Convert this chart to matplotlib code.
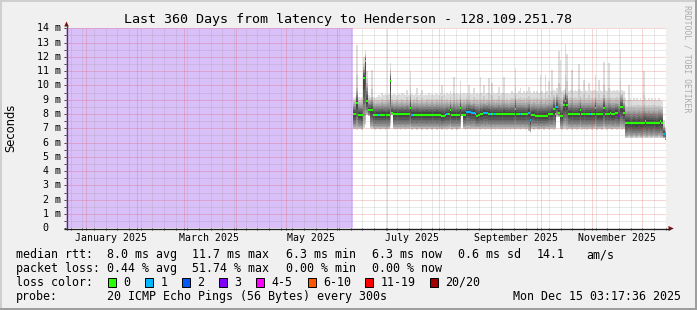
import matplotlib
matplotlib.use("Agg")
import matplotlib.pyplot as plt
import matplotlib.dates as mdates
import matplotlib.transforms as mtransforms
from matplotlib.ticker import MultipleLocator
from matplotlib.patches import Rectangle, Polygon
import numpy as np
from datetime import datetime, timedelta

# ---------------- data (one sample per day, milliseconds) ----------------
graph_start = datetime(2024, 12, 20, 3, 17, 36)
graph_end = datetime(2025, 12, 15, 3, 17, 36)
data_start = datetime(2025, 6, 10, 7, 0)

median_ms = [
    8.0, 8.0, 8.75, 7.95, 7.95, 7.9, 10.5, 11.7, 8.9, 8.3,
    8.3, 8.3, 7.95, 7.95, 7.95, 7.95, 7.95, 7.95, 7.95, 7.95,
    7.95, 7.95, 10.33, 8.05, 8.0, 8.0, 8.0, 8.0, 8.0, 8.0,
    8.0, 8.0, 8.0, 8.0, 8.44, 7.95, 7.95, 7.95, 7.95, 7.95,
    7.95, 7.95, 7.95, 7.95, 7.95, 7.95, 7.95, 7.95, 7.95, 7.95,
    7.95, 7.95, 7.95, 7.88, 7.88, 7.95, 8.0, 8.0, 8.28, 7.95,
    7.95, 7.95, 7.95, 7.95, 8.44, 7.95, 7.95, 7.95, 8.14, 8.14,
    8.14, 8.1, 8.1, 8.0, 7.88, 7.9, 8.0, 8.0, 8.1, 8.1,
    8.1, 8.0, 8.0, 8.0, 8.0, 8.0, 8.0, 8.0, 8.0, 8.0,
    8.0, 8.0, 8.0, 8.0, 8.0, 8.0, 8.0, 8.35, 8.0, 8.0,
    8.0, 8.0, 8.0, 8.0, 8.0, 8.1, 7.6, 7.95, 7.95, 7.88,
    7.88, 7.88, 7.88, 7.88, 7.88, 7.88, 7.88, 8.0, 8.0, 8.0,
    8.35, 8.0, 8.5, 8.1, 7.88, 7.88, 8.6, 8.9, 8.65, 8.03,
    8.03, 8.03, 8.0, 8.0, 8.0, 8.0, 8.28, 8.0, 8.0, 8.0,
    8.0, 8.0, 8.0, 8.0, 8.0, 8.4, 7.97, 7.97, 7.97, 7.97,
    8.44, 8.0, 8.0, 8.0, 8.1, 7.97, 7.97, 8.1, 8.1, 7.88,
    8.5, 8.5, 8.1, 7.4, 7.4, 7.4, 7.35, 7.35, 7.35, 7.35,
    7.35, 7.35, 7.35, 7.35, 7.4, 7.5, 7.4, 7.4, 7.4, 7.4,
    7.4, 7.4, 7.35, 7.35, 7.5, 7.4, 6.6, 6.3,
]

loss_count = [
    0, 0, 0, 0, 0, 0, 0, 0, 0, 0,
    0, 0, 0, 0, 0, 1, 0, 0, 0, 12,
    0, 0, 0, 0, 0, 0, 0, 0, 0, 0,
    0, 0, 0, 0, 0, 1, 0, 0, 0, 0,
    0, 0, 0, 0, 0, 0, 0, 0, 0, 0,
    0, 0, 0, 0, 0, 0, 1, 0, 0, 0,
    0, 0, 0, 0, 0, 0, 0, 0, 1, 1,
    1, 1, 1, 0, 0, 0, 0, 0, 1, 1,
    1, 0, 1, 0, 1, 1, 0, 0, 0, 0,
    0, 0, 0, 0, 0, 0, 0, 0, 0, 0,
    1, 0, 0, 0, 0, 1, 1, 0, 0, 0,
    0, 0, 0, 0, 0, 0, 0, 0, 0, 0,
    0, 0, 1, 0, 0, 0, 0, 0, 0, 0,
    0, 0, 0, 0, 0, 0, 0, 0, 0, 1,
    0, 0, 1, 0, 0, 0, 0, 0, 0, 0,
    0, 0, 0, 0, 0, 0, 0, 0, 0, 3,
    0, 0, 0, 0, 0, 0, 0, 0, 0, 0,
    0, 0, 0, 0, 0, 0, 0, 0, 0, 0,
    0, 0, 0, 0, 0, 0, 1, 0,
]

min_ping_ms = [
    6.95, 6.95, 6.9, 6.95, 6.95, 6.9, 7.0, 7.2, 7.9, 7.85,
    7.0, 6.95, 6.95, 6.9, 6.95, 6.95, 6.9, 6.95, 6.95, 6.9,
    6.95, 6.95, 7.1, 7.95, 6.95, 6.9, 6.95, 6.95, 6.9, 6.95,
    6.95, 6.9, 6.95, 6.95, 6.95, 6.9, 6.95, 6.95, 6.9, 6.95,
    6.95, 6.9, 6.95, 6.95, 6.9, 6.95, 6.95, 6.9, 6.95, 6.95,
    6.9, 6.95, 6.95, 6.9, 6.95, 6.95, 6.9, 6.95, 6.95, 6.9,
    6.95, 6.95, 6.9, 6.95, 6.95, 7.9, 6.95, 6.9, 6.95, 6.95,
    6.9, 6.95, 6.95, 6.9, 6.95, 6.95, 6.9, 6.95, 6.95, 6.9,
    6.95, 6.95, 6.9, 6.95, 6.95, 6.9, 6.95, 6.95, 6.9, 6.95,
    6.95, 6.9, 6.95, 6.95, 6.9, 6.95, 6.95, 6.9, 6.95, 6.95,
    6.9, 6.95, 6.95, 6.9, 6.95, 6.8, 6.7, 6.95, 6.9, 6.95,
    6.95, 6.9, 6.95, 6.95, 6.9, 6.95, 6.95, 6.9, 6.95, 6.95,
    6.9, 6.95, 7.8, 7.8, 6.95, 6.9, 6.95, 6.95, 6.9, 6.95,
    6.95, 6.9, 6.95, 6.95, 6.9, 6.95, 6.95, 6.9, 6.95, 6.95,
    6.9, 6.95, 6.95, 6.9, 6.95, 6.95, 6.9, 6.95, 6.95, 6.9,
    6.95, 6.95, 6.9, 6.95, 6.95, 6.9, 6.95, 6.95, 6.9, 6.95,
    6.95, 6.9, 6.95, 6.3, 6.3, 6.35, 6.3, 6.3, 6.35, 6.3,
    6.3, 6.35, 6.3, 6.3, 6.35, 6.3, 6.3, 6.35, 6.3, 6.3,
    6.35, 6.3, 6.3, 6.35, 6.3, 6.3, 6.3, 6.15,
]

upper_ping_ms = [
    8.85, 8.85, 9.8, 8.85, 8.8, 8.85, 11.3, 12.1, 10.2, 9.0,
    9.0, 9.2, 8.85, 8.8, 8.85, 8.85, 8.8, 8.9, 8.85, 8.85,
    8.85, 8.9, 11.0, 8.9, 8.85, 8.85, 8.9, 8.85, 8.85, 8.9,
    8.85, 8.85, 8.95, 8.85, 9.4, 8.85, 8.9, 8.85, 8.95, 8.85,
    8.85, 8.9, 8.85, 8.85, 8.9, 8.85, 8.85, 8.9, 8.85, 8.85,
    8.9, 8.85, 8.85, 8.95, 8.85, 8.85, 8.9, 8.85, 9.0, 8.85,
    9.0, 8.85, 8.9, 8.85, 9.2, 8.85, 8.9, 8.85, 8.95, 9.0,
    8.9, 8.85, 8.95, 8.85, 8.9, 8.85, 9.0, 8.9, 8.95, 8.85,
    8.9, 9.0, 8.85, 8.95, 8.9, 8.85, 8.9, 8.95, 8.85, 8.9,
    9.0, 8.85, 8.9, 8.85, 8.9, 8.9, 8.9, 9.3, 8.9, 8.9,
    8.95, 8.9, 8.9, 8.85, 8.9, 9.0, 8.9, 8.85, 8.9, 8.85,
    8.9, 8.85, 9.0, 8.9, 8.85, 9.0, 8.9, 8.95, 8.9, 9.0,
    9.2, 8.9, 9.3, 9.2, 9.1, 8.9, 9.3, 9.8, 9.5, 8.9,
    8.95, 9.1, 8.9, 8.95, 8.9, 9.0, 9.1, 8.9, 8.95, 8.9,
    8.9, 8.95, 8.9, 8.9, 8.9, 9.2, 8.9, 8.95, 8.9, 8.9,
    9.3, 8.9, 8.9, 9.1, 8.95, 8.9, 8.9, 8.95, 8.95, 8.9,
    9.4, 9.3, 8.95, 8.45, 8.4, 8.5, 8.4, 8.4, 8.45, 8.4,
    8.4, 8.45, 8.4, 8.4, 8.6, 8.45, 8.4, 8.45, 8.4, 8.4,
    8.45, 8.4, 8.4, 8.45, 8.4, 8.35, 7.2, 6.9,
]

max_ping_ms = [
    9.1, 9.2, 12.8, 9.2, 9.1, 9.2, 12.0, 12.5, 11.0, 9.3,
    9.2, 11.1, 9.2, 9.1, 9.2, 9.3, 9.2, 9.5, 9.3, 9.4,
    9.3, 9.4, 11.6, 9.3, 9.4, 9.3, 9.3, 9.4, 9.3, 9.5,
    9.4, 9.3, 9.7, 9.3, 11.0, 9.4, 9.3, 9.4, 9.8, 9.3,
    9.4, 9.7, 9.3, 9.4, 9.3, 9.5, 9.3, 9.4, 9.3, 9.5,
    9.4, 9.3, 9.5, 10.0, 9.4, 9.3, 9.5, 9.4, 9.6, 9.4,
    10.6, 9.4, 9.5, 9.4, 10.3, 9.4, 9.5, 9.4, 9.5, 10.0,
    9.5, 9.4, 9.8, 9.4, 9.5, 9.4, 10.6, 9.5, 10.0, 9.4,
    9.5, 10.5, 9.4, 10.2, 9.5, 9.4, 9.5, 9.9, 9.4, 9.5,
    10.6, 9.4, 9.5, 9.4, 9.5, 9.6, 9.5, 11.2, 9.5, 9.6,
    9.8, 9.5, 9.6, 9.5, 9.6, 9.9, 9.6, 9.5, 9.6, 9.5,
    9.6, 9.5, 10.7, 9.6, 9.5, 10.7, 9.6, 10.3, 9.6, 11.1,
    9.7, 9.6, 9.8, 12.4, 11.8, 9.6, 9.7, 12.9, 12.2, 9.6,
    9.7, 11.1, 9.6, 9.7, 9.6, 11.5, 9.7, 9.6, 10.4, 9.7,
    9.6, 10.2, 9.7, 9.6, 9.7, 10.7, 9.6, 10.35, 9.7, 9.6,
    11.66, 9.7, 9.6, 11.55, 9.7, 9.6, 9.7, 9.6, 9.7, 9.6,
    12.5, 9.7, 9.6, 9.1, 9.0, 10.0, 9.1, 9.0, 9.1, 9.0,
    9.1, 9.0, 9.1, 9.0, 11.0, 9.1, 9.0, 9.1, 9.0, 9.1,
    9.0, 9.1, 9.0, 9.1, 9.0, 8.9, 7.6, 7.1,
]

loss_classes = ["0", "1", "2", "3", "4-5", "6-10", "11-19", "20/20"]
loss_lo = [0, 1, 2, 3, 4, 6, 11, 20]
loss_hi = [0, 1, 2, 3, 5, 10, 19, 20]
loss_colors = ["#26ff00", "#00b8ff", "#0059ff", "#7e00ff",
               "#ff00ff", "#ff5500", "#ff0000", "#a10000"]

yticks_ms = list(range(0, 15))
month_labels = ["January 2025", "March 2025", "May 2025",
                "July 2025", "September 2025", "November 2025"]
month_label_dates = [datetime(2025, 1, 16), datetime(2025, 3, 16), datetime(2025, 5, 16),
                     datetime(2025, 7, 16), datetime(2025, 9, 16), datetime(2025, 11, 16)]

title = "Last 360 Days from latency to Henderson - 128.109.251.78"
rtt_row = [("median rtt:", 15.6), ("8.0 ms avg", 106.7), ("11.7 ms max", 192.4),
           ("6.3 ms min", 285.8), ("6.3 ms now", 372.4), ("0.6 ms sd", 457.8),
           ("14.1", 536.9), ("am/s", 586.7)]
loss_row = [("packet loss:", 15.6), ("0.44 % avg", 106.7), ("51.74 % max", 192.4),
            ("0.00 % min", 285.8), ("0.00 % now", 372.4)]
probe_text = "20 ICMP Echo Pings (56 Bytes) every 300s"
date_text = "Mon Dec 15 03:17:36 2025"

# ---------------- figure ----------------
W, H = 697, 310
MONO = "DejaVu Sans Mono"
fig = plt.figure(figsize=(W / 100, H / 100), dpi=100)
fig.patch.set_facecolor("#f0f0f0")

X0, X1, YT, YB = 66.0, 666.0, 28.3, 228.3
ax = fig.add_axes([X0 / W, 1 - YB / H, (X1 - X0) / W, (YB - YT) / H])
ax.set_facecolor("white")
for s in ax.spines.values():
    s.set_visible(False)
ax.xaxis_date()
ax.set_xlim(mdates.date2num(graph_start), mdates.date2num(graph_end))
ax.set_ylim(0, 14)

n = len(median_ms)
med = np.array(median_ms)
lo = np.array(min_ping_ms)
up = np.array(upper_ping_ms)
hi = np.array(max_ping_ms)
loss = np.array(loss_count)
edges = mdates.date2num([data_start + timedelta(days=i) for i in range(n + 1)])

# unknown (no data) period
ax.axvspan(mdates.date2num(graph_start), edges[0], color="#dac0f8", lw=0, zorder=0.5)

# sorted pings (20) built from the estimated percentile bounds
fl = np.array([0.03, 0.08, 0.15, 0.24, 0.35, 0.48, 0.62, 0.78])
fu = np.array([0.18, 0.32, 0.45, 0.57, 0.69, 0.83, 1.0])
pings = np.zeros((20, n))
pings[0] = lo
pings[1:9] = lo + (med - lo) * fl[:, None]
pings[9] = med
pings[10] = med
pings[11:18] = med + (up - med) * fu[:, None]
pings[18] = up + (hi - up) * 0.3
pings[19] = hi

half = 10
for ii in range(1, half):
    g = int(190 / half * (half - ii)) + 50
    col = "#%02x%02x%02x" % (g, g, g)
    y1 = np.append(pings[ii - 1], pings[ii - 1][-1])
    y2 = np.append(pings[20 - ii], pings[20 - ii][-1])
    ax.fill_between(edges, y1, y2, step="post", color=col, lw=0, zorder=1)

# median coloured by loss
for a, b, c in zip(loss_lo, loss_hi, loss_colors):
    m = (loss >= a) & (loss <= b)
    if m.any():
        ax.hlines(med[m], edges[:-1][m], edges[1:][m], colors=c, linewidth=1.5, zorder=3)

# grid
ax.yaxis.set_major_locator(MultipleLocator(1))
ax.yaxis.set_minor_locator(MultipleLocator(0.5))
ax.xaxis.set_major_locator(mdates.MonthLocator())
ax.xaxis.set_minor_locator(mdates.WeekdayLocator(byweekday=mdates.MO))
ax.set_axisbelow(False)
ax.grid(True, which="major", color="#de3030", alpha=0.4, linewidth=0.72, linestyle=(0, (1, 1)))
ax.grid(True, which="minor", color="#8f8f8f", alpha=0.4, linewidth=0.72, linestyle=(0, (1, 1)))
ax.tick_params(which="both", direction="out", length=1.6, width=0.72, color="#404040",
               labelbottom=False, labelleft=False, top=False, right=False)

# y labels
ytr = mtransforms.blended_transform_factory(ax.transAxes, ax.transData)
for v in yticks_ms:
    if v == 0:
        ax.text((48.7 - X0) / (X1 - X0), v, "0", transform=ytr, ha="right", va="center",
                family=MONO, fontsize=7.2, color="black", clip_on=False)
    else:
        ax.text((61.0 - X0) / (X1 - X0), v, f"{v} m", transform=ytr, ha="right", va="center",
                family=MONO, fontsize=7.2, color="black", clip_on=False)

# x labels
xtr = ax.get_xaxis_transform()
for lab, d in zip(month_labels, month_label_dates):
    ax.text(mdates.date2num(d), -(237.7 - YB) / (YB - YT),
            lab, transform=xtr, ha="center", va="center", family=MONO, fontsize=7.1, clip_on=False)

# ---------------- overlay in pixel coordinates ----------------
ov = fig.add_axes([0, 0, 1, 1], zorder=5)
ov.set_xlim(0, W)
ov.set_ylim(H, 0)
ov.axis("off")
ov.patch.set_visible(False)

# 3D border
ov.add_patch(Rectangle((0, 0), W, 2, color="#cfcfcf", lw=0))
ov.add_patch(Rectangle((0, 0), 2, H, color="#cfcfcf", lw=0))
ov.add_patch(Rectangle((0, H - 2), W, 2, color="#9e9e9e", lw=0))
ov.add_patch(Rectangle((W - 2, 0), 2, H, color="#9e9e9e", lw=0))

# axes lines + arrows
ov.plot([X0 + 0.5, X0 + 0.5], [YB + 1.5, 25.0], color="#404040", lw=0.9, solid_capstyle="butt")
ov.plot([X0 - 2.5, 669.5], [YB + 0.2, YB + 0.2], color="#202020", lw=0.9, solid_capstyle="butt")
ov.add_patch(Polygon([(64.2, 26.5), (68.8, 26.5), (66.5, 21.5)], closed=True, color="#7f1010", lw=0))
ov.add_patch(Polygon([(668.5, YB - 2.3), (668.5, YB + 2.7), (673.8, YB + 0.2)], closed=True,
                     color="#7f1010", lw=0))

# title, y label, watermark
ov.text(348, 19, title, ha="center", va="center", family=MONO, fontsize=9.6, color="black")
ov.text(10.5, 128, "Seconds", rotation=90, ha="center", va="center",
        family="DejaVu Sans", fontsize=8.3, color="black")
ov.text(687.5, 59, "RRDTOOL / TOBI OETIKER", rotation=-90, ha="center", va="center",
        family=MONO, fontsize=5.9, color="#ababab")

# legend rows
LF = 8.35
for txt, x in rtt_row:
    ov.text(x, 254.5, txt, ha="left", va="center", family=MONO, fontsize=LF)
for txt, x in loss_row:
    ov.text(x, 268.4, txt, ha="left", va="center", family=MONO, fontsize=LF)
ov.text(15.6, 282.3, "loss color:", ha="left", va="center", family=MONO, fontsize=LF)
box_x = [108.0, 145.3, 182.0, 219.0, 256.4, 307.6, 365.3, 430.0]
for bx, lab, col in zip(box_x, loss_classes, loss_colors):
    ov.add_patch(Rectangle((bx, 278.0), 8, 8.5, facecolor=col, edgecolor="black", lw=0.7))
    ov.text(bx + 15.5, 282.3, lab, ha="left", va="center", family=MONO, fontsize=LF)
ov.text(15.6, 296.6, "probe:", ha="left", va="center", family=MONO, fontsize=LF)
ov.text(106.7, 296.6, probe_text, ha="left", va="center", family=MONO, fontsize=LF)
ov.text(681.0, 296.6, date_text, ha="right", va="center", family=MONO, fontsize=LF)

fig.savefig("out.png", dpi=100, facecolor=fig.get_facecolor())
